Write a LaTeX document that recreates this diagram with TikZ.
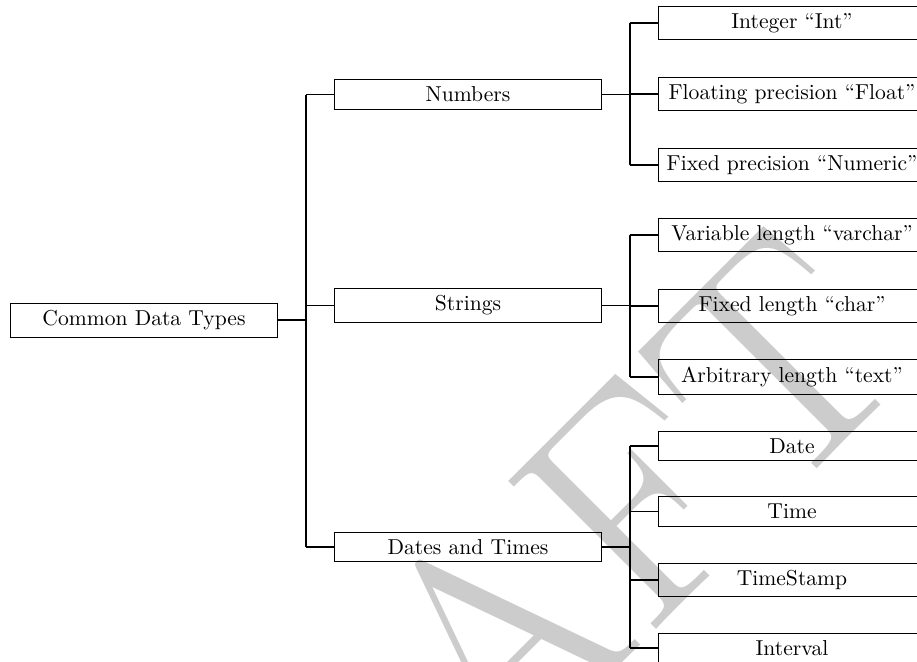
\documentclass[tikz,border=0pt]{standalone}
\begin{document}
\begin{tikzpicture}[x=0.463pt, y=-0.463pt,
  box/.style={draw, line width=0.4pt, minimum width=124pt, inner sep=.3333em},
  link/.style={line width=0.6pt},
  stub/.style={line width=0.9pt},
  watermark/.style={text=black!20, font=\fontsize{5cm}{5cm}\selectfont,
    rotate=45, anchor=base, inner sep=0pt}]
\useasboundingbox (0,0) rectangle (917,661);
\clip (0,0) rectangle (917,661);

% background watermark
\node[watermark] (wm) at (558,728) {DRAFT};

% root and first level
\node[box] (root) at (144,320) {Common Data Types};
\node[box] (num) at (468,94.5) {Numbers};
\node[box] (str) at (468,305.5) {Strings};
\node[box] (dt) at (468,547) {Dates and Times};

% leaves
\node[box] (int)  at (792,23)    {Integer “Int”};
\node[box] (flt)  at (792,94)    {Floating precision “Float”};
\node[box] (nmr)  at (792,165)   {Fixed precision “Numeric”};
\node[box] (vch)  at (792,235)   {Variable length “varchar”};
\node[box] (chr)  at (792,306)   {Fixed length “char”};
\node[box] (txt)  at (792,377)   {Arbitrary length “text”};
\node[box] (date) at (792,446)   {Date};
\node[box] (time) at (792,511.5) {Time};
\node[box] (tst)  at (792,580)   {TimeStamp};
\node[box] (intv) at (792,648)   {Interval};

% fork columns
\coordinate (ra) at (306,0);
\coordinate (rb) at (630,0);

% root fork
\draw[stub] (root.east) -- (root.east -| ra);
\draw[link] (ra |- num.west) -- (ra |- dt.west);
\foreach \c in {num,str,dt} \draw[link] (ra |- \c.west) -- (\c.west);

% Numbers fork
\draw[stub] (num.east) -- (num.east -| rb);
\draw[link] (rb |- int.west) -- (rb |- nmr.west);
\foreach \c in {int,flt,nmr} \draw[link] (rb |- \c.west) -- (\c.west);

% Strings fork
\draw[stub] (str.east) -- (str.east -| rb);
\draw[link] (rb |- vch.west) -- (rb |- txt.west);
\foreach \c in {vch,chr,txt} \draw[link] (rb |- \c.west) -- (\c.west);

% Dates and Times fork
\draw[stub] (dt.east) -- (dt.east -| rb);
\draw[link] (rb |- date.west) -- (rb |- intv.west);
\foreach \c in {date,time,tst,intv} \draw[link] (rb |- \c.west) -- (\c.west);
\end{tikzpicture}
\end{document}
